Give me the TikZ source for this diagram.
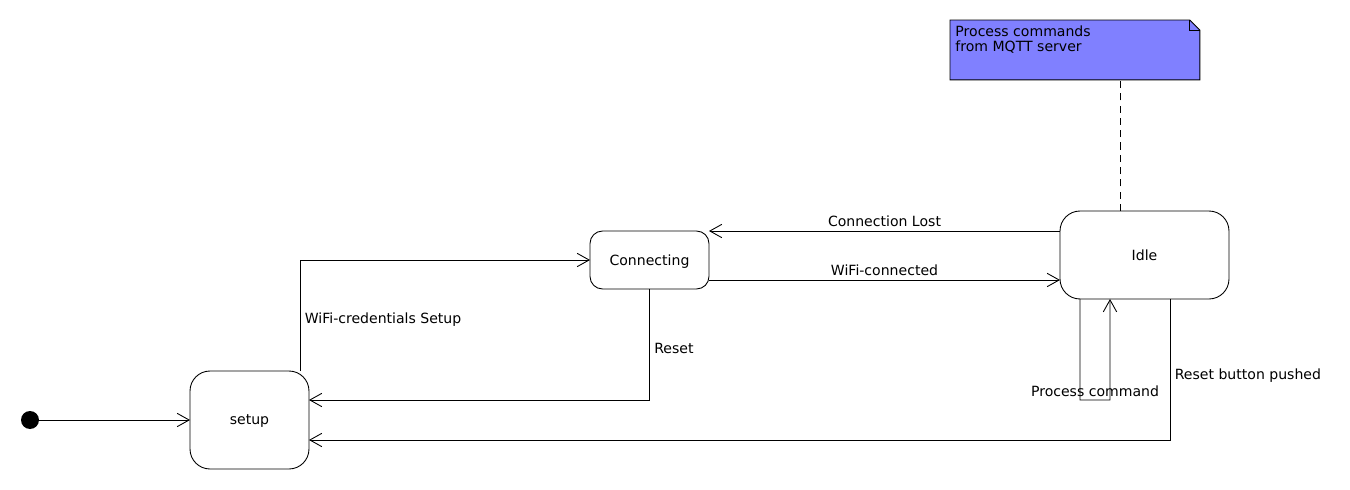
\documentclass[tikz,border=0pt]{standalone}
\usepackage{fontspec}
\setmainfont{DejaVu Sans}
\usetikzlibrary{arrows.meta}

\definecolor{notefill}{HTML}{8080FF}

\tikzset{
    state/.style={draw, rounded corners=0.4cm, outer sep=0pt, text depth=0pt, align=center},
    trans/.style={-{Straight Barb[length=6.8pt, width=7.6pt]}},
    side/.style={right, inner sep=2.5pt, yshift=-0.08cm},
}

\begin{document}
\begin{tikzpicture}[x=0.02cm, y=-0.02cm, line width=0.5pt, font=\fontsize{8pt}{8.6pt}\selectfont]
    \useasboundingbox (0,0) rectangle (1350,490);

    % States
    \node[circle, fill, inner sep=0pt, minimum size=0.36cm] (init) at (30,420) {};
    \node[state, minimum width=2.38cm, minimum height=1.96cm] (setup) at (249.5,420) {setup};
    \node[state, rounded corners=0.25cm, minimum width=2.38cm, minimum height=1.16cm] (conn) at (649.5,260) {Connecting};
    \node[state, minimum width=3.38cm, minimum height=1.76cm] (idle) at (1144.5,255) {Idle};

    % Note
    \node[anchor=north west, inner sep=0pt, minimum width=4.98cm, minimum height=1.18cm] (note) at (950,20) {};
    \filldraw[fill=notefill] (note.north west) -- ([xshift=-0.2cm]note.north east) -- ([yshift=-0.2cm]note.north east)
        -- (note.south east) -- (note.south west) -- cycle;
    \draw ([xshift=-0.2cm]note.north east) |- ([yshift=-0.2cm]note.north east);
    \node[anchor=north west, align=left, inner sep=0.1cm] (notetext) at (note.north west) {Process commands\\from MQTT server};
    \draw[dash pattern=on 4pt off 3pt] ([xshift=-0.49cm]idle.north) -- ([xshift=-0.49cm]idle.north |- note.south);

    % Transitions
    \draw[trans] (init) -- (setup);
    \draw[trans] ([xshift=1.01cm]setup.north) |- (conn.west) node[pos=0.25, side] {WiFi-credentials Setup};
    \draw[trans] (conn.south) |- ([yshift=0.4cm]setup.east) node[pos=0.25, side] {Reset};
    \draw[trans] ([yshift=-0.4cm]conn.east) -- ([yshift=-0.4cm]conn.east -| idle.west) node[midway, above=-1.1pt] {WiFi-connected};
    \draw[trans] ([yshift=0.48cm]idle.west) -- ([yshift=0.48cm]idle.west -| conn.east) node[midway, above=-1.1pt] {Connection Lost};
    \draw[trans] ([xshift=-1.29cm]idle.south) -- ++(0,101) -- ++(30,0) node[midway, above=-1.6pt] {Process command} -- ([xshift=-0.69cm]idle.south);
    \draw[trans] ([xshift=0.51cm]idle.south) |- ([yshift=-0.4cm]setup.east) node[pos=0.25, side, yshift=-0.04cm] {Reset button pushed};
\end{tikzpicture}
\end{document}
